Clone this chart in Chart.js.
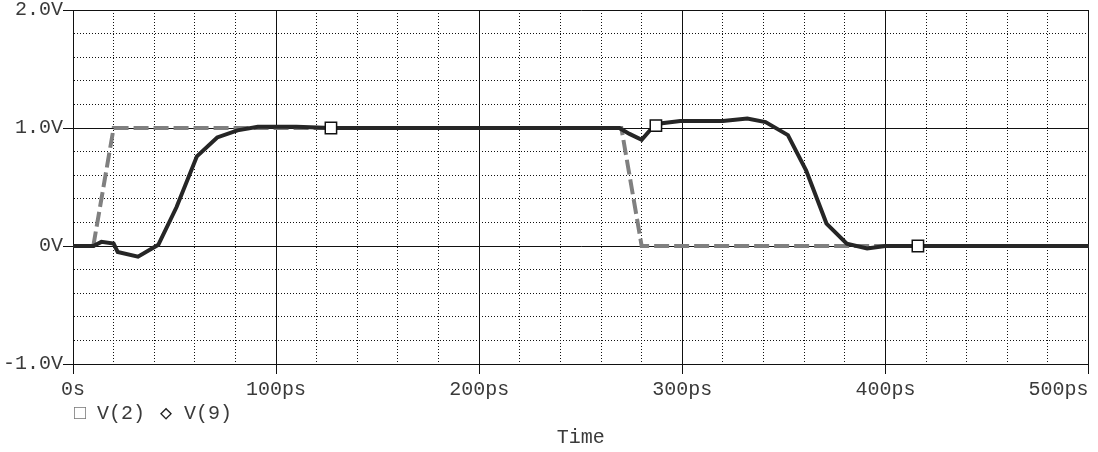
<!DOCTYPE html>
<html>
<head>
<meta charset="utf-8">
<script src="https://cdn.jsdelivr.net/npm/chart.js@4/dist/chart.umd.min.js"></script>
<style>
  html, body { margin: 0; padding: 0; background: #fff; }
  #wrap { width: 1098px; height: 452px; }
</style>
</head>
<body>
<div id="wrap"><canvas id="scope" width="1098" height="452"></canvas></div>
<script>
// V(2): ideal input pulse (grey dashed)
const v2Time = [0, 10, 20, 270, 280, 500];
const v2Volts = [0, 0, 1.0, 1.0, 0, 0];

// V(9): response (black)
const v9Time = [0, 10, 14, 20, 22, 32, 42, 51, 61, 71, 81, 91, 110, 127, 150, 200, 250, 269, 274, 280, 284, 287, 290, 299, 320, 332, 341, 352, 361, 371, 381, 391, 400, 416, 450, 500];
const v9Volts = [0, 0, 0.035, 0.02, -0.05, -0.09, 0.01, 0.33, 0.76, 0.92, 0.98, 1.01, 1.01, 1.0, 1.0, 1.0, 1.0, 1.0, 0.95, 0.9, 0.98, 1.02, 1.04, 1.06, 1.06, 1.08, 1.05, 0.94, 0.64, 0.19, 0.02, -0.02, 0, 0, 0, 0];

// trace markers
const markerTime = [127, 287, 416];
const markerVolts = [1.0, 1.02, 0];

const xMajor = 100;
const yMajor = 1.0;

const FONT = { family: '"Liberation Mono", "DejaVu Sans Mono", monospace', size: 20 };
const TEXT = '#3a3a3a';

function pts(xs, ys) {
    return xs.map(function (x, i) { return { x: x, y: ys[i] }; });
}

function isMajor(v, step) {
    const r = v / step;
    return Math.abs(r - Math.round(r)) < 1e-6;
}

function gridColor(step) {
    return function (c) { return c.tick ? '#111' : '#111'; };
}

function gridDash(step) {
    return function (c) {
        if (!c.tick) return [];
        return isMajor(c.tick.value, step) ? [] : [1, 2];
    };
}

function tickColor(step) {
    return function (c) {
        return c.tick && isMajor(c.tick.value, step) ? '#111' : 'rgba(0,0,0,0)';
    };
}

// legend drawn under the tick labels, like the simulator's probe window
const probeLegend = {
    id: 'probeLegend',
    afterDraw: function (chart) {
        const ctx = chart.ctx;
        ctx.save();
        ctx.font = FONT.size + 'px ' + FONT.family;
        ctx.textBaseline = 'middle';
        ctx.textAlign = 'left';
        ctx.fillStyle = '#777';
        ctx.fillText('\u25A1', 74, 414);
        ctx.fillStyle = TEXT;
        ctx.fillText(chart.data.datasets[2].label, 97, 414);
        ctx.fillStyle = '#222';
        ctx.fillText('\u25C7', 160, 414);
        ctx.fillStyle = TEXT;
        ctx.fillText(chart.data.datasets[1].label, 184, 414);
        ctx.restore();
    }
};

const ctx = document.getElementById('scope').getContext('2d');

const scope = new Chart(ctx, {
    type: 'line',
    data: {
        datasets: [{
            label: 'markers',
            data: pts(markerTime, markerVolts),
            showLine: false,
            pointStyle: 'rect',
            pointRadius: 8,
            pointBackgroundColor: '#fff',
            pointBorderColor: '#111',
            pointBorderWidth: 1.5,
            order: 0
        }, {
            label: 'V(9)',
            data: pts(v9Time, v9Volts),
            borderColor: '#262626',
            borderWidth: 4,
            pointRadius: 0,
            tension: 0,
            fill: false,
            order: 1
        }, {
            label: 'V(2)',
            data: pts(v2Time, v2Volts),
            borderColor: '#808080',
            borderWidth: 4,
            borderDash: [15, 5],
            pointRadius: 0,
            tension: 0,
            fill: false,
            order: 2
        }]
    },
    options: {
        responsive: false,
        animation: false,
        layout: {
            padding: { top: 10, right: 8, left: 0, bottom: 0 }
        },
        scales: {
            x: {
                type: 'linear',
                min: 0,
                max: 500,
                afterFit: function (s) {
                    s.height = 88;
                    s.paddingLeft = 0;
                    s.paddingRight = 0;
                },
                ticks: {
                    stepSize: 20,
                    autoSkip: false,
                    maxRotation: 0,
                    minRotation: 0,
                    padding: 4,
                    color: TEXT,
                    font: FONT,
                    callback: function (v) {
                        if (!isMajor(v, xMajor)) return '';
                        if (v === 0) return '0s';
                        // last label sits inside the plot edge
                        if (v === 500) return v + 'ps     ';
                        return v + 'ps';
                    }
                },
                grid: {
                    color: gridColor(xMajor),
                    lineWidth: 1,
                    tickLength: 10,
                    tickColor: tickColor(xMajor)
                },
                border: {
                    color: '#111',
                    width: 1,
                    dash: gridDash(xMajor)
                },
                title: {
                    display: true,
                    text: 'Time',
                    color: TEXT,
                    font: FONT,
                    padding: { top: 0, bottom: 2 }
                }
            },
            y: {
                min: -1,
                max: 2,
                afterFit: function (s) {
                    s.width = 73;
                    s.paddingTop = 0;
                    s.paddingBottom = 0;
                },
                ticks: {
                    stepSize: 0.2,
                    autoSkip: false,
                    padding: 0,
                    color: TEXT,
                    font: FONT,
                    callback: function (v) {
                        if (!isMajor(v, yMajor)) return '';
                        const n = Math.round(v);
                        return n === 0 ? '0V' : n.toFixed(1) + 'V';
                    }
                },
                grid: {
                    color: gridColor(yMajor),
                    lineWidth: 1,
                    tickLength: 10,
                    tickColor: tickColor(yMajor)
                },
                border: {
                    color: '#111',
                    width: 1,
                    dash: gridDash(yMajor)
                }
            }
        },
        plugins: {
            legend: { display: false },
            tooltip: { enabled: false }
        }
    },
    plugins: [probeLegend]
});
</script>
</body>
</html>
